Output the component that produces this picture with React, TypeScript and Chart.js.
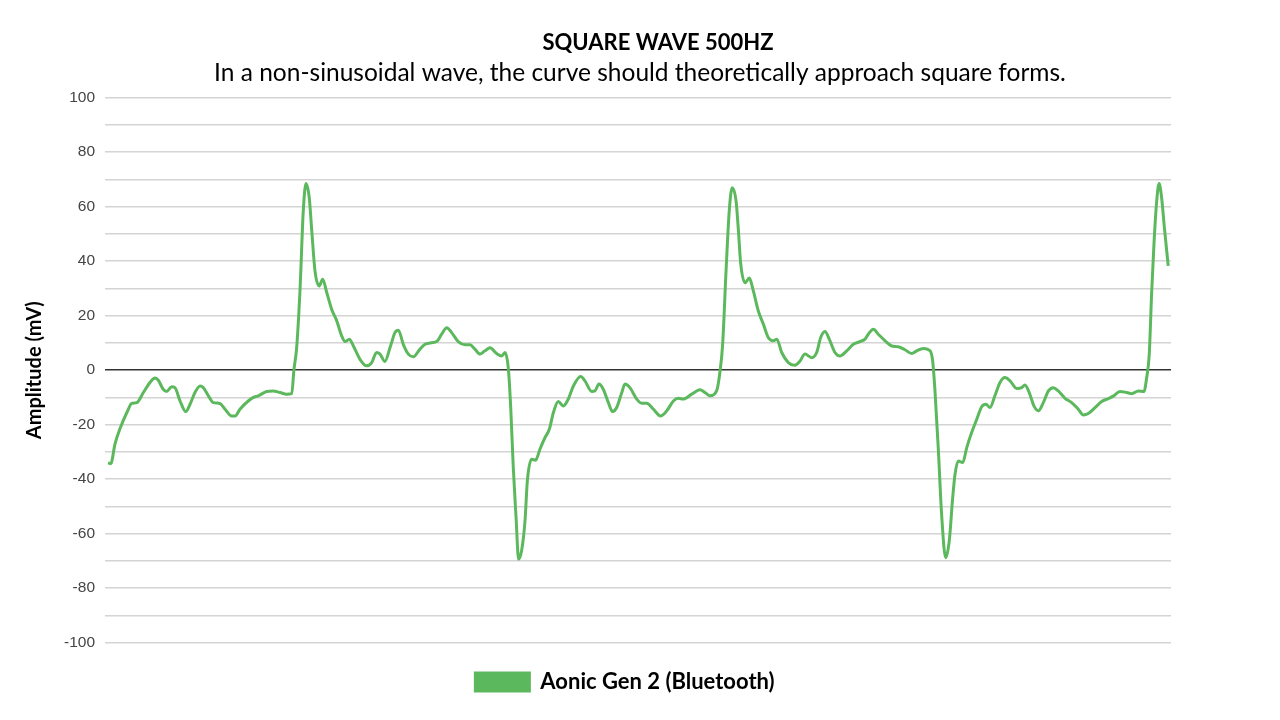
import React, { useEffect, useRef } from "react";
import { Chart, registerables } from "chart.js";

Chart.register(...registerables);

const TITLE = "SQUARE WAVE 500HZ";
const SUBTITLE = "In a non-sinusoidal wave, the curve should theoretically approach square forms.";
const SERIES_LABEL = "Aonic Gen 2 (Bluetooth)";
const Y_TITLE = "Amplitude (mV)";
const Y_MIN = -100;
const Y_MAX = 100;
const X_MIN = 0;
const X_MAX = 5.0;

// time in ms
const timeMs = [
  0.014, 0.027, 0.047, 0.070, 0.108, 0.125, 0.149, 0.180, 0.211, 0.235,
  0.250, 0.273, 0.289, 0.313, 0.328, 0.352, 0.379, 0.399, 0.422, 0.446,
  0.461, 0.485, 0.508, 0.539, 0.563, 0.594, 0.610, 0.633, 0.672, 0.696,
  0.719, 0.758, 0.789, 0.821, 0.852, 0.876, 0.886, 0.899, 0.915, 0.930,
  0.943, 0.958, 0.970, 0.985, 1.005, 1.021, 1.040, 1.063, 1.087, 1.110,
  1.126, 1.146, 1.165, 1.196, 1.227, 1.251, 1.274, 1.290, 1.313, 1.337,
  1.360, 1.376, 1.399, 1.423, 1.446, 1.477, 1.501, 1.532, 1.556, 1.579,
  1.603, 1.626, 1.657, 1.689, 1.712, 1.735, 1.759, 1.782, 1.806, 1.837,
  1.861, 1.876, 1.892, 1.903, 1.915, 1.928, 1.940, 1.954, 1.970, 1.981,
  2.001, 2.020, 2.040, 2.064, 2.084, 2.103, 2.126, 2.150, 2.173, 2.197,
  2.231, 2.251, 2.283, 2.298, 2.317, 2.337, 2.361, 2.381, 2.400, 2.424,
  2.439, 2.462, 2.494, 2.517, 2.541, 2.572, 2.606, 2.635, 2.666, 2.689,
  2.712, 2.752, 2.791, 2.814, 2.838, 2.869, 2.885, 2.897, 2.913, 2.928,
  2.942, 2.960, 2.970, 2.982, 3.002, 3.022, 3.041, 3.064, 3.088, 3.111,
  3.135, 3.151, 3.174, 3.205, 3.236, 3.260, 3.283, 3.315, 3.338, 3.357,
  3.377, 3.397, 3.424, 3.447, 3.479, 3.510, 3.541, 3.565, 3.580, 3.604,
  3.627, 3.659, 3.690, 3.721, 3.752, 3.784, 3.807, 3.838, 3.870, 3.882,
  3.893, 3.909, 3.924, 3.943, 3.960, 3.976, 3.987, 4.002, 4.023, 4.042,
  4.065, 4.089, 4.112, 4.132, 4.151, 4.174, 4.198, 4.221, 4.245, 4.276,
  4.300, 4.315, 4.335, 4.357, 4.378, 4.401, 4.425, 4.448, 4.471, 4.503,
  4.534, 4.565, 4.589, 4.612, 4.644, 4.675, 4.706, 4.729, 4.761, 4.792,
  4.816, 4.847, 4.873, 4.886, 4.898, 4.909, 4.920, 4.933, 4.944, 4.956,
  4.969, 4.987,
];

// amplitude in mV
const amplitudeMv = [
  -34.0, -34.3, -27.0, -21.5, -14.6, -12.2, -11.9, -8.2, -4.5, -2.9,
  -3.7, -7.0, -7.8, -6.1, -6.4, -11.3, -15.2, -12.5, -8.2, -5.8,
  -6.4, -9.4, -11.9, -12.2, -14.3, -16.8, -16.8, -14.3, -11.3, -10.0,
  -9.4, -7.8, -7.6, -8.2, -8.8, -8.6, 0.0, 8.3, 30.0, 58.5,
  68.5, 63.3, 51.0, 36.4, 30.9, 33.4, 28.5, 22.4, 18.1, 12.6,
  10.5, 11.4, 8.9, 4.0, 1.6, 2.8, 6.5, 5.9, 3.2, 8.3,
  13.8, 14.7, 9.5, 5.9, 4.9, 7.7, 9.5, 10.1, 10.5, 13.2,
  15.6, 13.8, 10.5, 9.3, 9.3, 7.7, 5.9, 7.1, 8.2, 6.1,
  5.2, 6.5, 0.4, -13.7, -35.7, -54.0, -69.4, -66.3, -55.3, -40.6,
  -32.7, -33.0, -29.0, -24.7, -21.7, -15.6, -11.5, -13.1, -10.6, -5.8,
  -2.3, -3.9, -7.8, -7.6, -5.1, -7.0, -11.9, -15.2, -13.7, -8.2,
  -5.1, -6.4, -10.6, -12.1, -12.1, -14.3, -16.8, -14.9, -11.3, -10.3,
  -10.6, -8.8, -7.2, -8.2, -9.4, -7.5, -0.3, 9.5, 36.4, 58.5,
  67.0, 62.1, 52.3, 38.9, 32.1, 33.8, 29.1, 21.8, 16.9, 12.0,
  10.8, 11.4, 6.5, 2.8, 1.8, 3.4, 5.9, 4.6, 6.5, 12.0,
  14.2, 11.4, 6.5, 5.2, 7.1, 9.5, 10.5, 11.4, 13.2, 15.0,
  13.2, 10.8, 8.9, 8.6, 7.5, 6.1, 7.1, 8.0, 7.1, 3.4,
  -7.6, -29.6, -52.8, -68.8, -62.6, -46.8, -38.2, -33.3, -33.9, -28.4,
  -22.9, -18.0, -13.4, -12.5, -13.7, -9.4, -4.5, -2.7, -3.9, -6.7,
  -6.4, -5.4, -8.2, -13.1, -14.9, -11.9, -7.6, -6.4, -7.6, -10.3,
  -11.9, -14.3, -16.4, -15.9, -13.7, -11.5, -10.4, -9.5, -7.8, -8.2,
  -8.6, -7.6, -7.8, -2.7, 5.9, 27.9, 46.2, 62.1, 68.5, 63.3,
  52.3, 38.3,
];

const LINE_COLOR = "#5cb85c";

// small horizontal nudges of the title and legend blocks, as in the reference layout
const boxShift = {
  id: "boxShift",
  afterLayout(chart: any) {
    const t = chart.titleBlock;
    if (t) {
      t.left += 36;
    }
    const l = chart.legend;
    if (l) {
      l.left -= 15;
      l.right -= 15;
    }
  },
};

export default function App() {
  const canvasRef = useRef<HTMLCanvasElement | null>(null);

  useEffect(() => {
    const canvas = canvasRef.current;
    if (!canvas) return;
    const points = timeMs.map((t, i) => ({ x: t, y: amplitudeMv[i] }));
    const chart = new Chart(canvas, {
      type: "line",
      data: {
        datasets: [
          {
            label: SERIES_LABEL,
            data: points,
            borderColor: LINE_COLOR,
            backgroundColor: LINE_COLOR,
            borderWidth: 3,
            pointRadius: 0,
            cubicInterpolationMode: "monotone",
            fill: false,
          },
        ],
      },
      plugins: [boxShift],
      options: {
        animation: false,
        responsive: false,
        maintainAspectRatio: false,
        layout: { padding: { top: 0, bottom: 17, left: 0, right: 0 } },
        plugins: {
          title: {
            display: true,
            text: TITLE,
            color: "#000",
            font: { family: "Lato", size: 22, weight: "bold", lineHeight: 1.2 },
            padding: { top: 29.5, bottom: 0 },
          },
          subtitle: {
            display: true,
            text: SUBTITLE,
            color: "#000",
            font: { family: "Lato", size: 24.5, weight: "normal", lineHeight: 1.2 },
            padding: { top: 2.1, bottom: 10.3 },
          },
          legend: {
            display: true,
            position: "bottom",
            labels: {
              boxWidth: 54,
              boxHeight: 18,
              padding: 28.3,
              color: "#000",
              font: { family: "Lato", size: 22, weight: "bold" },
            },
          },
          tooltip: { enabled: false },
        },
        scales: {
          x: {
            type: "linear",
            display: false,
            min: X_MIN,
            max: X_MAX,
          },
          y: {
            type: "linear",
            min: Y_MIN,
            max: Y_MAX,
            afterFit: (scale: any) => {
              scale.width = 105;
            },
            border: { display: false },
            grid: {
              drawTicks: false,
              lineWidth: 1.5,
              color: (ctx: any) =>
                ctx.tick && ctx.tick.value === 0 ? "#333333" : "#d4d4d4",
            },
            ticks: {
              stepSize: 10,
              padding: 10,
              color: "#444",
              font: { family: "Liberation Sans", size: 15.5 },
              callback: (v: any) => (Number(v) % 20 === 0 ? String(v) : ""),
            },
            title: {
              display: true,
              text: Y_TITLE,
              color: "#000",
              font: { family: "Lato", size: 20, weight: "bold", lineHeight: 1.2 },
              padding: { top: 23, bottom: 0 },
            },
          },
          yRight: {
            type: "linear",
            position: "right",
            min: Y_MIN,
            max: Y_MAX,
            afterFit: (scale: any) => {
              scale.width = 109;
            },
            border: { display: false },
            grid: { display: false, drawOnChartArea: false },
            ticks: { display: false },
          },
        },
      },
    });
    return () => chart.destroy();
  }, []);

  return (
    <div
      style={{
        position: "fixed",
        left: 0,
        top: 0,
        width: 1280,
        height: 720,
        background: "#fff",
      }}
    >
      <canvas ref={canvasRef} width={1280} height={720} style={{ width: 1280, height: 720 }} />
    </div>
  );
}
